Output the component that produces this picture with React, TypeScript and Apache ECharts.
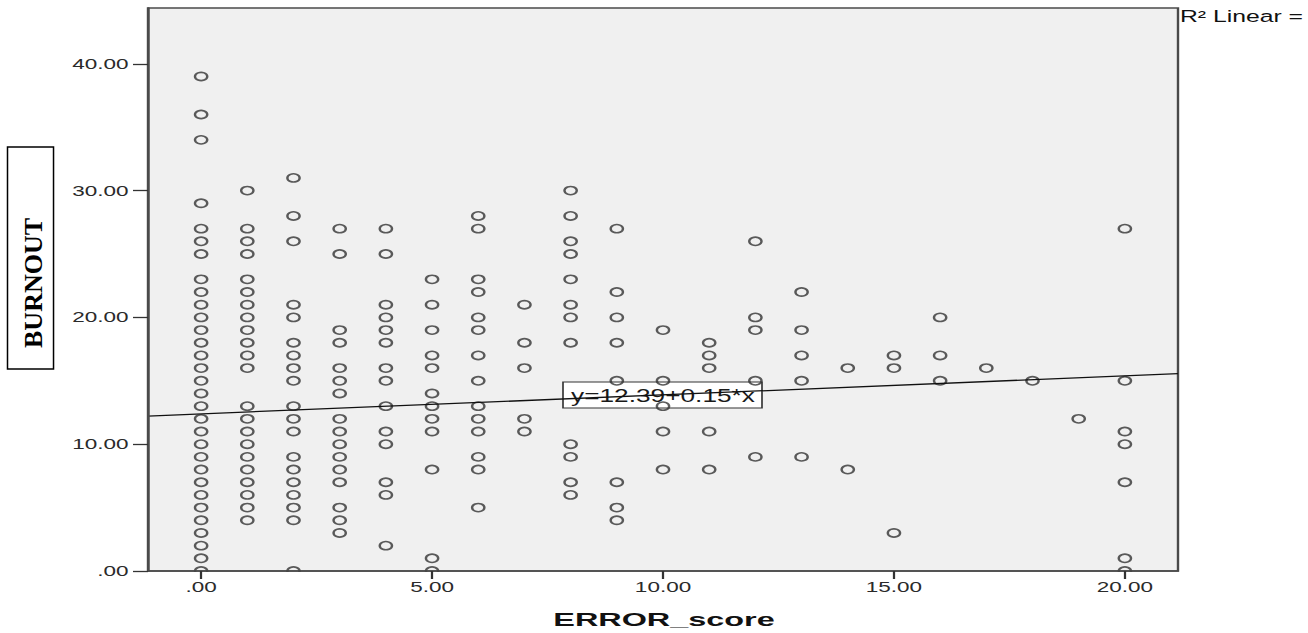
import React, { useEffect, useRef } from "react";
import * as echarts from "echarts";

// ERROR_score values (x) and BURNOUT values observed at each score
const errorScores = [0, 1, 2, 3, 4, 5, 6, 7, 8, 9, 10, 11, 12, 13, 14, 15, 16, 17, 18, 19, 20];
const burnoutAt0 = [0, 1, 2, 3, 4, 5, 6, 7, 8, 9, 10, 11, 12, 13, 14, 15, 16, 17, 18, 19, 20, 21, 22, 23, 25, 26, 27, 29, 34, 36, 39];
const burnoutAt1 = [4, 5, 6, 7, 8, 9, 10, 11, 12, 13, 16, 17, 18, 19, 20, 21, 22, 23, 25, 26, 27, 30];
const burnoutAt2 = [0, 4, 5, 6, 7, 8, 9, 11, 12, 13, 15, 16, 17, 18, 20, 21, 26, 28, 31];
const burnoutAt3 = [3, 4, 5, 7, 8, 9, 10, 11, 12, 14, 15, 16, 18, 19, 25, 27];
const burnoutAt4 = [2, 6, 7, 10, 11, 13, 15, 16, 18, 19, 20, 21, 25, 27];
const burnoutAt5 = [0, 1, 8, 11, 12, 13, 14, 16, 17, 19, 21, 23];
const burnoutAt6 = [5, 8, 9, 11, 12, 13, 15, 17, 19, 20, 22, 23, 27, 28];
const burnoutAt7 = [11, 12, 16, 18, 21];
const burnoutAt8 = [6, 7, 9, 10, 18, 20, 21, 23, 25, 26, 28, 30];
const burnoutAt9 = [4, 5, 7, 15, 18, 20, 22, 27];
const burnoutAt10 = [8, 11, 13, 15, 19];
const burnoutAt11 = [8, 11, 16, 17, 18];
const burnoutAt12 = [9, 15, 19, 20, 26];
const burnoutAt13 = [9, 15, 17, 19, 22];
const burnoutAt14 = [8, 16];
const burnoutAt15 = [3, 16, 17];
const burnoutAt16 = [15, 17, 20];
const burnoutAt17 = [16];
const burnoutAt18 = [15];
const burnoutAt19 = [12];
const burnoutAt20 = [0, 1, 7, 10, 11, 15, 27];

const burnoutByError = [
  burnoutAt0, burnoutAt1, burnoutAt2, burnoutAt3, burnoutAt4, burnoutAt5, burnoutAt6,
  burnoutAt7, burnoutAt8, burnoutAt9, burnoutAt10, burnoutAt11, burnoutAt12, burnoutAt13,
  burnoutAt14, burnoutAt15, burnoutAt16, burnoutAt17, burnoutAt18, burnoutAt19, burnoutAt20,
];

const xTicks = [0, 5, 10, 15, 20];
const yTicks = [0, 10, 20, 30, 40];
const fitIntercept = 12.39;
const fitSlope = 0.15;
const fitLabel = "y=12.39+0.15*x";
const r2Label = "R² Linear =";
const xName = "ERROR_score";
const yName = "BURNOUT";

const xMin = -1.15;
const xMax = 21.15;
const yMin = 0;
const yMax = 44.4;

// the reference picture is stretched horizontally
const SX = 1.5;
const W = 1308 / SX;
const H = 633;

const fmt = (v: number) => (v === 0 ? ".00" : v.toFixed(2));

export default function App() {
  const ref = useRef<HTMLDivElement>(null);

  useEffect(() => {
    if (!ref.current) return;
    const chart = echarts.init(ref.current, null, { renderer: "svg" });

    const points: number[][] = [];
    errorScores.forEach((x, i) => {
      burnoutByError[i].forEach((y) => points.push([x, y]));
    });

    const gridLeft = 148 / SX;
    const gridRight = (1308 - 1178) / SX;
    const gridTop = 8;
    const gridBottom = 62;
    const gridW = W - gridLeft - gridRight;

    const labelFont = "Liberation Sans, Arial, sans-serif";

    chart.setOption({
      animation: false,
      backgroundColor: "#ffffff",
      grid: {
        left: gridLeft,
        right: gridRight,
        top: gridTop,
        bottom: gridBottom,
        show: true,
        backgroundColor: "#f0f0f0",
        borderColor: "#4a4a4a",
        borderWidth: 1.6,
      },
      xAxis: {
        type: "value",
        min: xMin,
        max: xMax,
        z: 10,
        axisLine: { show: true, onZero: false, lineStyle: { color: "#4a4a4a", width: 1.6 } },
        axisTick: { show: true, length: 8, customValues: xTicks, lineStyle: { color: "#333333", width: 1.5 } },
        axisLabel: {
          customValues: xTicks,
          formatter: (v: number) => fmt(v),
          margin: 8,
          fontSize: 15,
          fontFamily: labelFont,
          color: "#2a2a2a",
        },
        splitLine: { show: false },
      },
      yAxis: {
        type: "value",
        min: yMin,
        max: yMax,
        z: 10,
        axisLine: { show: true, onZero: false, lineStyle: { color: "#4a4a4a", width: 1.6 } },
        axisTick: { show: true, length: 10, customValues: yTicks, lineStyle: { color: "#333333", width: 1.3 } },
        axisLabel: {
          customValues: yTicks,
          formatter: (v: number) => fmt(v),
          margin: 13,
          fontSize: 15,
          fontFamily: labelFont,
          color: "#2a2a2a",
        },
        splitLine: { show: false },
      },
      series: [
        {
          type: "scatter",
          data: points,
          symbol: "circle",
          symbolSize: 8.2,
          z: 2,
          itemStyle: { color: "rgba(0,0,0,0)", borderColor: "#333333", borderWidth: 1.6 },
        },
        {
          type: "line",
          data: [
            [xMin, fitIntercept + fitSlope * xMin],
            [xMax, fitIntercept + fitSlope * xMax],
          ],
          symbol: "none",
          z: 3,
          lineStyle: { color: "#111111", width: 1.3 },
        },
      ],
      graphic: [
        // hides the lower half of markers sitting on the x axis
        {
          type: "rect",
          z: 5,
          shape: { x: gridLeft + 1, y: H - gridBottom + 0.9, width: gridW - 2, height: 6 },
          style: { fill: "#ffffff" },
        },
        // regression equation label
        {
          type: "group",
          z: 20,
          children: [
            {
              type: "rect",
              shape: { x: 563 / SX, y: 382, width: 199 / SX, height: 26 },
              style: { fill: "#ffffff", stroke: "#333333", lineWidth: 1.1 },
            },
            {
              type: "text",
              x: 663 / SX,
              y: 396,
              style: {
                text: fitLabel,
                fontSize: 17.5,
                fontFamily: labelFont,
                fill: "#1a1a1a",
                align: "center",
                verticalAlign: "middle",
                textAlign: "center",
                textVerticalAlign: "middle",
              },
            },
          ],
        },
        // R² text
        {
          type: "text",
          z: 20,
          x: 1180 / SX,
          y: 16,
          style: {
            text: r2Label,
            fontSize: 16.5,
            fontFamily: labelFont,
            fill: "#111111",
            align: "left",
            verticalAlign: "middle",
            textAlign: "left",
            textVerticalAlign: "middle",
          },
        },
        // x axis title
        {
          type: "text",
          z: 20,
          x: 664 / SX,
          y: 620,
          scaleX: 1.2,
          style: {
            text: xName,
            fontSize: 18,
            fontWeight: "bold",
            fontFamily: labelFont,
            fill: "#111111",
            align: "center",
            verticalAlign: "middle",
            textAlign: "center",
            textVerticalAlign: "middle",
          },
        },
        // y axis title in its box (not stretched)
        {
          type: "group",
          z: 20,
          scaleX: 1 / SX,
          children: [
            {
              type: "rect",
              shape: { x: 7.5, y: 147, width: 46, height: 222 },
              style: { fill: "#ffffff", stroke: "#000000", lineWidth: 1.5 },
            },
            {
              type: "text",
              x: 33,
              y: 283,
              rotation: Math.PI / 2,
              style: {
                text: yName,
                fontSize: 26,
                fontWeight: "bold",
                fontFamily: "Liberation Serif, Times New Roman, serif",
                fill: "#000000",
                align: "center",
                verticalAlign: "middle",
                textAlign: "center",
                textVerticalAlign: "middle",
              },
            },
          ],
        },
      ],
    });

    return () => chart.dispose();
  }, []);

  return (
    <div
      style={{
        position: "fixed",
        left: 0,
        top: 0,
        width: 1308,
        height: 633,
        overflow: "hidden",
        background: "#ffffff",
      }}
    >
      <div
        ref={ref}
        style={{
          width: W,
          height: H,
          transform: `scaleX(${SX})`,
          transformOrigin: "0 0",
        }}
      />
    </div>
  );
}
